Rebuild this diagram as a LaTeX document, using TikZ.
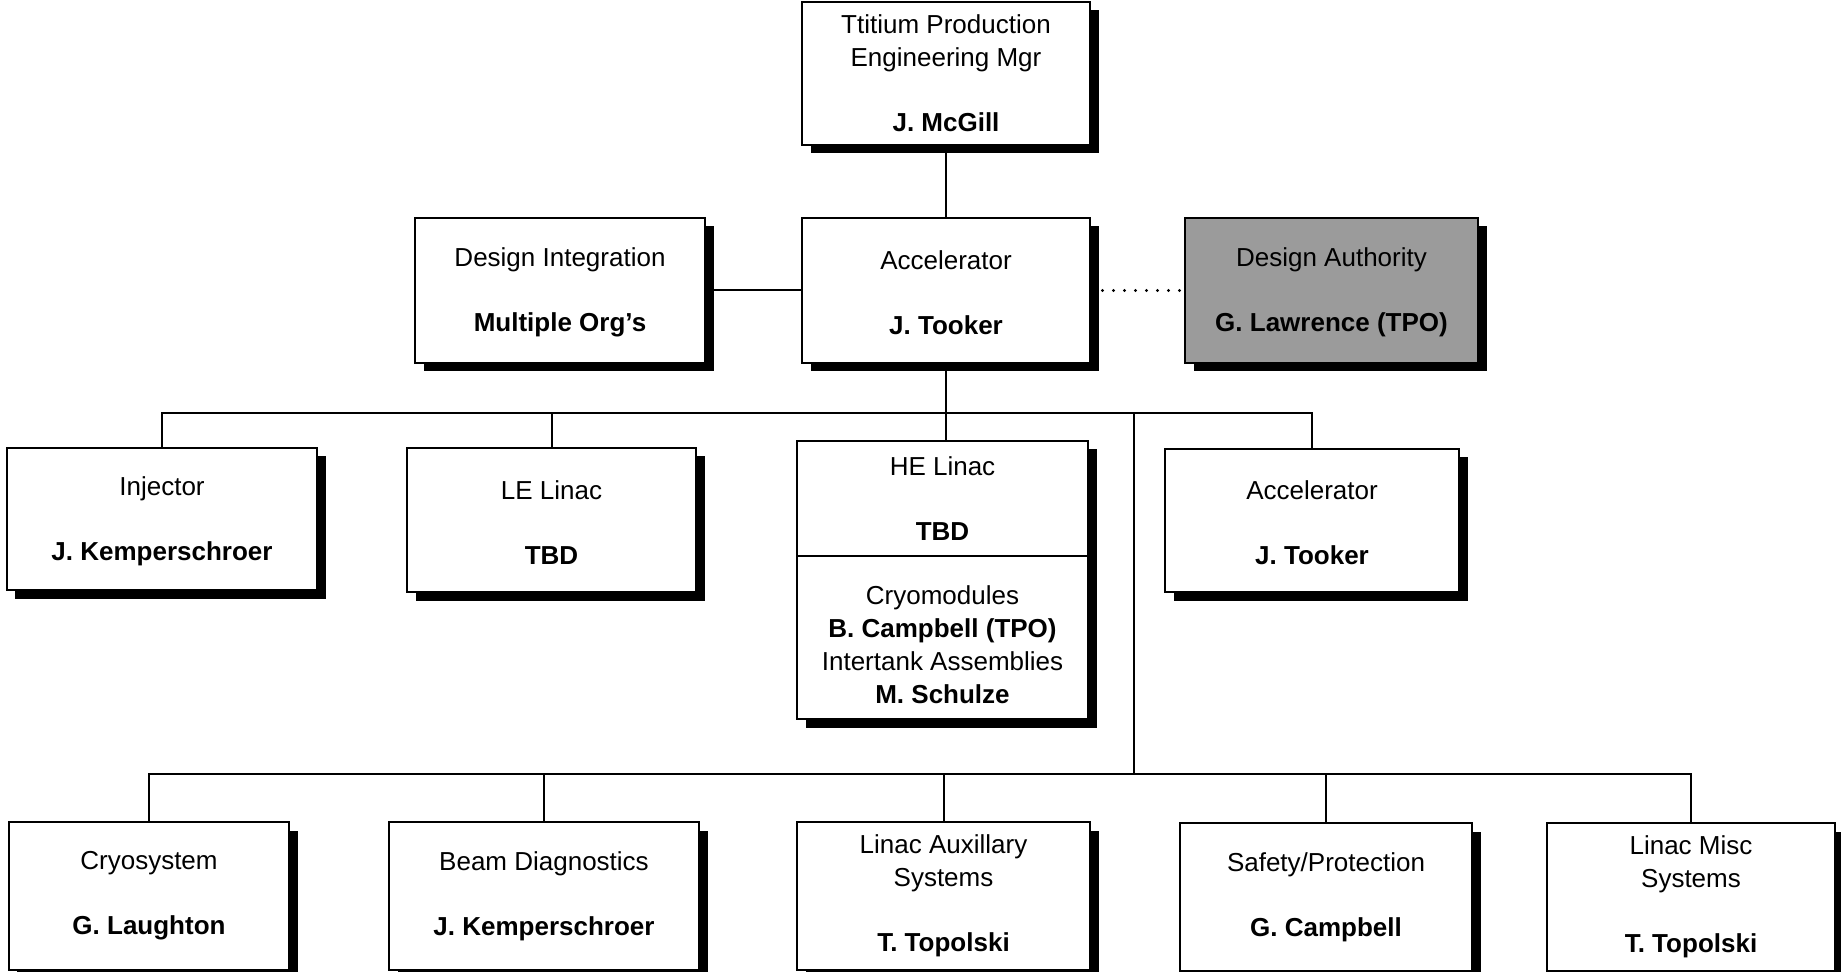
\documentclass[tikz,border=0pt]{standalone}
\usepackage{fontspec}
\setmainfont{Liberation Sans}
\usetikzlibrary{shadows,backgrounds}

\tikzset{
  orgbox/.style={draw=black, line width=1.1pt, fill=white, inner sep=0pt,
    align=center, font=\fontsize{10.4pt}{13.2pt}\selectfont,
    drop shadow={shadow xshift=3.4pt, shadow yshift=-3.4pt, opacity=1, fill=black}},
  authbox/.style={orgbox, fill={rgb,255:red,155;green,155;blue,155}},
  link/.style={draw=black, line width=0.8pt},
  dotlink/.style={draw=black, line width=1.3pt, line cap=round, dash pattern=on 0pt off 4.4pt}
}
\newcommand{\gapline}{\\[12.8pt]}

\begin{document}
\begin{tikzpicture}[x=0.4pt, y=-0.4pt]
\useasboundingbox (0,0) rectangle (1841,972);

% management chain
\node[orgbox, minimum width=115.2pt, minimum height=57.2pt] (mgr) at (946,73.5)
  {Ttitium Production\\Engineering Mgr\gapline\textbf{J. McGill}};
\node[orgbox, minimum width=116pt, minimum height=58pt] (di) at (560,290.5)
  {\rule{0pt}{9.2pt}Design Integration\gapline\textbf{Multiple Org's}};
\node[orgbox, minimum width=115.2pt, minimum height=58pt] (acc) at (946,290.5)
  {\rule{0pt}{9.2pt}Accelerator\gapline\textbf{J. Tooker}};
\node[authbox, minimum width=117.2pt, minimum height=58pt] (da) at (1331.5,290.5)
  {\rule{0pt}{9.2pt}Design Authority\gapline\textbf{G. Lawrence (TPO)}};

% accelerator sections
\node[orgbox, minimum width=124pt, minimum height=56.8pt] (inj) at (162,519)
  {\rule{0pt}{9.2pt}Injector\gapline\textbf{J. Kemperschroer}};
\node[orgbox, minimum width=115.6pt, minimum height=57.6pt] (le) at (551.5,520)
  {\rule{0pt}{9.2pt}LE Linac\gapline\textbf{TBD}};
\node[orgbox, minimum width=116.4pt, minimum height=46pt] (he) at (942.5,498.5)
  {HE Linac\gapline\textbf{TBD}};
\node[orgbox, minimum width=116.4pt, minimum height=65.2pt] (cryomod) at (942.5,637.5)
  {\rule{0pt}{13.2pt}Cryomodules\\\textbf{B. Campbell (TPO)}\\Intertank Assemblies\\\textbf{M. Schulze}};
\node[orgbox, minimum width=117.6pt, minimum height=57.2pt] (acc2) at (1312,520.5)
  {\rule{0pt}{9.2pt}Accelerator\gapline\textbf{J. Tooker}};

% linac systems
\node[orgbox, minimum width=112pt, minimum height=59.2pt] (cryo) at (149,896)
  {Cryosystem\gapline\textbf{G. Laughton}};
\node[orgbox, minimum width=124pt, minimum height=59.2pt] (beam) at (544,896)
  {Beam Diagnostics\gapline\textbf{J. Kemperschroer}};
\node[orgbox, minimum width=117.2pt, minimum height=59.2pt] (aux) at (943.5,896)
  {Linac Auxillary\\Systems\gapline\textbf{T. Topolski}};
\node[orgbox, minimum width=116.8pt, minimum height=59.2pt] (safety) at (1326,897)
  {Safety/Protection\gapline\textbf{G. Campbell}};
\node[orgbox, minimum width=115.2pt, minimum height=59.2pt] (misc) at (1691,897)
  {Linac Misc\\Systems\gapline\textbf{T. Topolski}};

% bus lines
\coordinate (busA) at (0,413);
\coordinate (spine) at (1134,413);
\coordinate (busB) at (1134,774);

\begin{pgfonlayer}{background}
  \draw[link] (mgr.south) -- (acc.north);
  \draw[link] (di.east) -- (acc.west);
  \draw[dotlink] (acc.east) -- (da.west);
  \draw[link] (acc.south) -- (acc.south |- he.north);
  \draw[link] (inj.north) -- (inj.north |- busA) -- (acc2.north |- busA) -- (acc2.north);
  \draw[link] (le.north) -- (le.north |- busA);
  \draw[link] (spine) -- (busB);
  \draw[link] (cryo.north) -- (cryo.north |- busB) -- (misc.north |- busB) -- (misc.north);
  \draw[link] (beam.north) -- (beam.north |- busB);
  \draw[link] (aux.north) -- (aux.north |- busB);
  \draw[link] (safety.north) -- (safety.north |- busB);
\end{pgfonlayer}
\end{tikzpicture}
\end{document}
